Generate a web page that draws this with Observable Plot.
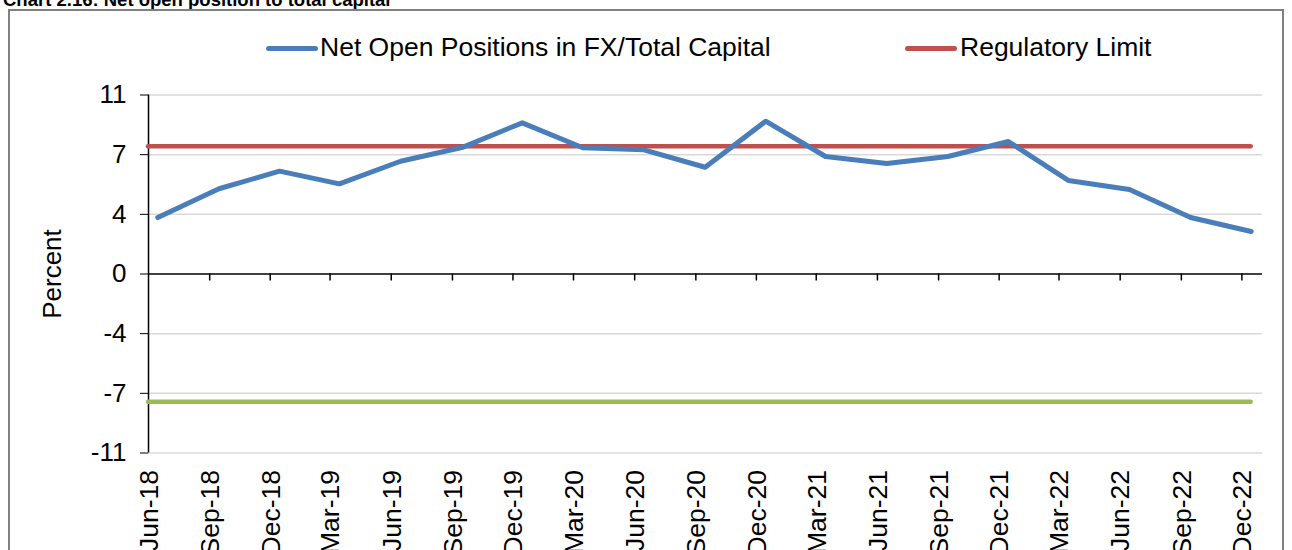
<!DOCTYPE html>
<html><head><meta charset="utf-8">
<script src="https://cdn.jsdelivr.net/npm/d3@7"></script>
<script src="https://cdn.jsdelivr.net/npm/@observablehq/plot@0.6"></script>
<style>
html,body{margin:0;padding:0;background:#fff;width:1292px;height:550px;overflow:hidden;font-family:"Liberation Sans",Arial,sans-serif;}
#title{position:absolute;left:3px;top:-10px;font-weight:bold;font-size:18.5px;line-height:20px;color:#000;white-space:nowrap;}
#frame{position:absolute;left:8px;top:9px;width:1276px;height:600px;border:2px solid #808080;box-sizing:border-box;}
#chart{position:absolute;left:0;top:0;}
.sw{position:absolute;height:5px;border-radius:3px;}
.lt{position:absolute;font-size:26.5px;line-height:27px;color:#000;white-space:nowrap;}
</style></head><body>
<div id="title">Chart 2.16: Net open position to total capital</div>
<div id="frame"></div>
<div id="chart"></div>
<div class="sw" style="left:266px;top:45.5px;width:52px;background:#4a7ebb"></div>
<div class="lt" style="left:320px;top:34px">Net Open Positions in FX/Total Capital</div>
<div class="sw" style="left:905px;top:45.5px;width:52px;background:#c0504d"></div>
<div class="lt" style="left:960px;top:34px">Regulatory Limit</div>
<script>
// ---- data ----
const categories = ["Jun-18","Sep-18","Dec-18","Mar-19","Jun-19","Sep-19","Dec-19","Mar-20","Jun-20","Sep-20","Dec-20","Mar-21","Jun-21","Sep-21","Dec-21","Mar-22","Jun-22","Sep-22","Dec-22"];
const netOpen = [3.47,5.24,6.32,5.54,6.93,7.77,9.29,7.76,7.63,6.56,9.39,7.22,6.79,7.22,8.14,5.75,5.19,3.47,2.61];
const regulatoryLimit = 7.85;
const lowerLimit = -7.85;
const yTicks = [-11,-22/3,-11/3,0,11/3,22/3,11];
const yTickLabels = ["-11","-7","-4","0","4","7","11"];
const yLabel = "Percent";

// ---- derived ----
const parse = d3.utcParse("%b-%y");
const tickDates = categories.map(parse);
const pointDates = tickDates.map(d => d3.utcDay.offset(d, 14));
const data = categories.map((c, i) => ({label: c, date: pointDates[i], value: netOpen[i]}));
const xStart = tickDates[0];
const xEnd = d3.utcMonth.offset(tickDates[tickDates.length - 1], 1);
const lastDate = pointDates[pointDates.length - 1];
const font = '"Liberation Sans", Arial, sans-serif';

const chart = Plot.plot({
  width: 1292, height: 550,
  marginLeft: 148, marginRight: 30, marginTop: 94.5, marginBottom: 97.5,
  style: {fontFamily: font, fontSize: "26px", color: "#000", background: "transparent", overflow: "visible"},
  x: {type: "utc", domain: [xStart, xEnd], axis: null},
  y: {domain: [-11, 11], ticks: yTicks, tickFormat: d => yTickLabels[yTicks.indexOf(d)], tickSize: 8, tickPadding: 14, label: null, axis: "left"},
  marks: [
    Plot.ruleY(yTicks.filter(d => d !== 0), {stroke: "#d9d9d9", strokeWidth: 1.5}),
    Plot.ruleX([xStart], {stroke: "#000", strokeWidth: 1.5}),
    Plot.ruleY([0], {stroke: "#000", strokeWidth: 1.5}),
    Plot.ruleX(tickDates.slice(1), {y1: 0, y2: -0.43, stroke: "#000", strokeWidth: 1.5}),
    Plot.ruleY([regulatoryLimit], {x1: xStart, x2: lastDate, stroke: "#c0504d", strokeWidth: 4.5, strokeLinecap: "round"}),
    Plot.ruleY([lowerLimit], {x1: xStart, x2: lastDate, stroke: "#9bbb59", strokeWidth: 4.5, strokeLinecap: "round"}),
    Plot.line(data, {x: "date", y: "value", stroke: "#4a7ebb", strokeWidth: 5, strokeLinejoin: "round", strokeLinecap: "round"}),
    Plot.text(data, {x: "date", frameAnchor: "bottom", text: "label", rotate: -90, textAnchor: "end", dy: 17, fontSize: 26.5}),
    Plot.text([yLabel], {frameAnchor: "left", text: d => d, rotate: -90, textAnchor: "middle", dx: -96, fontSize: 26})
  ]
});
document.getElementById("chart").appendChild(chart);
</script>
</body></html>
